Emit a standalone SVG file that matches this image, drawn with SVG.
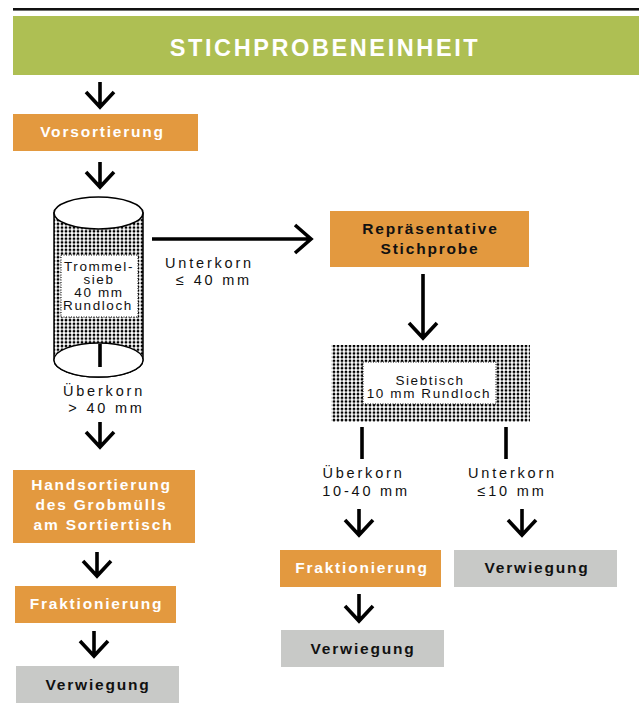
<svg xmlns="http://www.w3.org/2000/svg" width="639" height="723" viewBox="0 0 639 723">
<defs>
<pattern id="dots" patternUnits="userSpaceOnUse" width="4" height="3.7">
<circle cx="2" cy="1.85" r="1.45" fill="#000"/>
</pattern>
<style>
text{font-family:"Liberation Sans",Arial,sans-serif;text-anchor:middle}
.h{font-size:23.5px;font-weight:bold;letter-spacing:2.6px;fill:#fff}
.bw{font-size:15.5px;font-weight:bold;letter-spacing:1.8px;fill:#fff}
.bk{font-size:15.5px;font-weight:bold;letter-spacing:1.8px;fill:#111}
.s{font-size:13.5px;letter-spacing:1.6px;fill:#111}
.l{font-size:14.5px;letter-spacing:2.8px;fill:#111}
.or{fill:#E3993F}
.gr{fill:#C8C9C7}
.ar{fill:none;stroke:#000;stroke-width:3.6}
.bar{stroke:#000;stroke-width:3.6}
</style>
</defs>
<rect x="13" y="8" width="626" height="2.6" fill="#111"/>
<g id="header">
<rect x="13" y="16" width="626" height="59" fill="#AEBF53"/>
<text class="h" x="325" y="55.5">STICHPROBENEINHEIT</text>
</g>
<g id="vorsortierung">
<rect class="or" x="13" y="114" width="185" height="37"/>
<text class="bw" x="102.5" y="137">Vorsortierung</text>
</g>
<g id="trommelsieb">
<path d="M54,213 V360 A44.5,17 0 0 0 143,360 V213 Z" fill="url(#dots)" stroke="#000" stroke-width="1.5"/>
<ellipse cx="98.5" cy="213" rx="44.5" ry="16" fill="#fff" stroke="#000" stroke-width="1.6"/>
<ellipse cx="98.5" cy="360" rx="44.5" ry="17" fill="#fff" stroke="#000" stroke-width="1.3"/>
<rect x="61" y="255" width="77" height="62" fill="#fff" stroke="#000" stroke-width="1" stroke-dasharray="1 1.5"/>
<text class="s" x="99" y="271">Trommel-</text>
<text class="s" x="99" y="284">sieb</text>
<text class="s" x="99" y="297">40 mm</text>
<text class="s" x="98" y="310">Rundloch</text>
</g>
<g id="stichprobe">
<rect class="or" x="330" y="211" width="199" height="56"/>
<text class="bk" x="430.5" y="234">Repräsentative</text>
<text class="bk" x="430" y="254">Stichprobe</text>
</g>
<g id="siebtisch">
<rect x="331.5" y="345" width="198.5" height="77" fill="url(#dots)"/>
<rect x="363" y="362" width="133" height="42" fill="#fff" stroke="#000" stroke-width="1" stroke-dasharray="1 1.5"/>
<text class="s" x="430" y="385">Siebtisch</text>
<text class="s" x="429" y="398">10 mm Rundloch</text>
</g>
<g id="handsortierung">
<rect class="or" x="13" y="470" width="182" height="73"/>
<text class="bw" x="101.5" y="490">Handsortierung</text>
<text class="bw" x="101.5" y="509.5">des Grobmülls</text>
<text class="bw" x="103.5" y="529.5">am Sortiertisch</text>
</g>
<g id="fraktionierung1">
<rect class="or" x="15" y="586" width="161" height="37"/>
<text class="bw" x="96.5" y="609">Fraktionierung</text>
</g>
<g id="verwiegung1">
<rect class="gr" x="16" y="666" width="163" height="37"/>
<text class="bk" x="98" y="690">Verwiegung</text>
</g>
<g id="fraktionierung2">
<rect class="or" x="280" y="550" width="161" height="37"/>
<text class="bw" x="362" y="573">Fraktionierung</text>
</g>
<g id="verwiegung2">
<rect class="gr" x="454" y="550" width="163" height="37"/>
<text class="bk" x="537" y="573">Verwiegung</text>
</g>
<g id="verwiegung3">
<rect class="gr" x="281" y="630" width="163" height="37"/>
<text class="bk" x="363" y="654">Verwiegung</text>
</g>
<g id="labels">
<text class="l" x="209.5" y="268">Unterkorn</text>
<text class="l" x="214" y="285">≤ 40 mm</text>
<text class="l" x="104" y="396">Überkorn</text>
<text class="l" x="106.5" y="413">&gt; 40 mm</text>
<text class="l" x="363.5" y="478">Überkorn</text>
<text class="l" x="366" y="496">10-40 mm</text>
<text class="l" x="512.5" y="478">Unterkorn</text>
<text class="l" x="512" y="496">≤10 mm</text>
</g>
<g id="connectors">
<path class="ar" d="M100,82 V106 M86,92 L100,107 L114,92"/>
<path class="ar" d="M100,162 V186 M86,172 L100,187 L114,172"/>
<path class="ar" d="M100,422 V446 M86,432 L100,447 L114,432"/>
<path class="ar" d="M97,552 V575 M83,561 L97,576 L111,561"/>
<path class="ar" d="M94,631 V655 M80,641 L94,656 L108,641"/>
<path class="ar" d="M423,274 V337 M409,323 L423,338 L437,323"/>
<path class="ar" d="M359,509 V534 M345,520 L359,535 L373,520"/>
<path class="ar" d="M522,509 V534 M508,520 L522,535 L536,520"/>
<path class="ar" d="M359,594 V620 M345,606 L359,621 L373,606"/>
<path class="ar" d="M152,239 H310 M295,225 L311,239 L295,253"/>
<line class="bar" x1="100" y1="344" x2="100" y2="367"/>
<line class="bar" x1="362" y1="427" x2="362" y2="459"/>
<line class="bar" x1="506" y1="427" x2="506" y2="459"/>
</g>
</svg>
